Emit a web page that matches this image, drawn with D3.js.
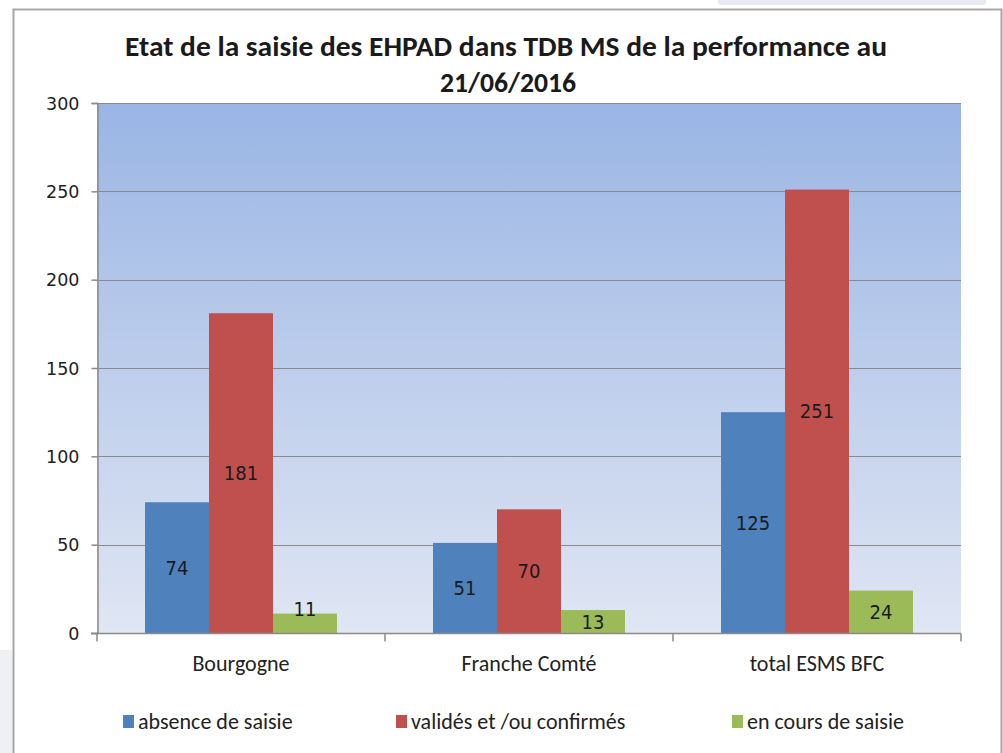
<!DOCTYPE html>
<html>
<head>
<meta charset="utf-8">
<script src="https://cdn.jsdelivr.net/npm/d3@7"></script>
<style>
  html, body { margin: 0; padding: 0; background: #fff; }
  svg { display: block; font-family: Carlito, Calibri, Lato, sans-serif; }
  .num { font-family: "DejaVu Sans Condensed", "DejaVu Sans", Verdana, sans-serif; }
  .tickfont { font-family: "DejaVu Sans", Verdana, sans-serif; }
</style>
</head>
<body>
<svg id="chart" width="1003" height="753"></svg>
<script>
// values
const categories = ["Bourgogne", "Franche Comté", "total ESMS BFC"];
const seriesNames = ["absence de saisie", "validés et /ou confirmés", "en cours de saisie"];
const absence = [74, 51, 125];
const valides = [181, 70, 251];
const enCours = [11, 13, 24];
const yTicks = [0, 50, 100, 150, 200, 250, 300];
const colors = ["#4f81bd", "#c0504d", "#9bbb59"];
const titleLines = ["Etat de la saisie des EHPAD dans TDB MS de la performance au", "21/06/2016"];

const series = [absence, valides, enCours];
const W = 1003, H = 753;
const plot = { left: 97, right: 961, top: 103, bottom: 633 };

const svg = d3.select("#chart");

// ----- page backdrop / frame -----
svg.append("rect").attr("x", 0).attr("y", 650).attr("width", 12).attr("height", H - 650).attr("fill", "#eef0f4");
svg.append("rect").attr("x", 718).attr("y", -4).attr("width", 268).attr("height", 9).attr("rx", 3).attr("fill", "#e7eaf0");
svg.append("path").attr("d", `M13.5,${H} V9.5 H1001.5 V${H}`)
  .attr("fill", "none").attr("stroke", "#a6a6a6").attr("stroke-width", 2);

// ----- title -----
const title = svg.append("text").attr("text-anchor", "middle").attr("font-weight", "bold")
  .attr("font-size", 28).attr("fill", "#1a1a1a");
title.append("tspan").attr("x", 506).attr("y", 56).text(titleLines[0])
  .attr("textLength", 762).attr("lengthAdjust", "spacingAndGlyphs");
title.append("tspan").attr("x", 508).attr("y", 92).text(titleLines[1])
  .attr("textLength", 136).attr("lengthAdjust", "spacingAndGlyphs");

// ----- scales -----
const x0 = d3.scaleBand().domain(categories).range([plot.left, plot.right]).paddingInner(0).paddingOuter(0);
const x1 = d3.scaleBand().domain(d3.range(series.length)).range([0, x0.bandwidth()]).paddingOuter(0.75).paddingInner(0);
const y = d3.scaleLinear().domain([0, 300]).range([plot.bottom, plot.top]);

// ----- plot background gradient -----
const grad = svg.append("defs").append("linearGradient").attr("id", "bg")
  .attr("x1", 0).attr("y1", 0).attr("x2", 0).attr("y2", 1);
grad.append("stop").attr("offset", "0%").attr("stop-color", "#9ab5e4");
grad.append("stop").attr("offset", "100%").attr("stop-color", "#e0e6f3");
svg.append("rect").attr("x", plot.left).attr("y", plot.top)
  .attr("width", plot.right - plot.left).attr("height", plot.bottom - plot.top).attr("fill", "url(#bg)");

// gridlines
svg.append("g").selectAll("line").data(yTicks.filter((t) => t > 0)).join("line")
  .attr("x1", plot.left).attr("x2", plot.right)
  .attr("y1", (d) => Math.round(y(d)) + 0.5).attr("y2", (d) => Math.round(y(d)) + 0.5)
  .attr("stroke", "#8a8a8a").attr("stroke-width", 1.2);

// ----- bars -----
const groups = svg.append("g").selectAll("g").data(categories).join("g")
  .attr("transform", (d) => `translate(${x0(d)},0)`);
groups.selectAll("rect").data((c, i) => series.map((s, k) => ({ k, v: s[i] }))).join("rect")
  .attr("x", (d) => x1(d.k)).attr("width", x1.bandwidth())
  .attr("y", (d) => y(d.v)).attr("height", (d) => y(0) - y(d.v))
  .attr("fill", (d) => colors[d.k]);

// data labels (centered; pushed up when the bar is too short)
groups.selectAll("text").data((c, i) => series.map((s, k) => ({ k, v: s[i] }))).join("text")
  .attr("class", "num")
  .attr("x", (d) => x1(d.k) + x1.bandwidth() / 2)
  .attr("y", (d) => {
    const h = y(0) - y(d.v);
    return h < 21 ? y(d.v) - 5 : (y(d.v) + y(0)) / 2;
  })
  .attr("dy", "0.36em").attr("text-anchor", "middle").attr("font-size", 20).attr("fill", "#1a1a1a")
  .text((d) => d.v);

// ----- axes -----
const yAxis = svg.append("g").attr("transform", `translate(${plot.left + 0.5},0)`)
  .call(d3.axisLeft(y).tickValues(yTicks).tickSize(6).tickPadding(12));
yAxis.select(".domain").attr("stroke", "#8a8a8a").attr("stroke-width", 1.5);
yAxis.selectAll(".tick line").attr("stroke", "#8a8a8a").attr("stroke-width", 1.5);
yAxis.selectAll(".tick text").attr("class", "tickfont").attr("font-size", 17.5)
  .attr("fill", "#222").attr("font-family", null).attr("dy", "0.36em");

const xAxis = svg.append("g").attr("transform", `translate(0,${plot.bottom + 0.5})`);
xAxis.append("line").attr("x1", plot.left - 6).attr("x2", plot.right)
  .attr("stroke", "#8a8a8a").attr("stroke-width", 1.5);
xAxis.selectAll("line.tk").data(d3.range(categories.length + 1)).join("line").attr("class", "tk")
  .attr("x1", (i) => plot.left + i * x0.bandwidth()).attr("x2", (i) => plot.left + i * x0.bandwidth())
  .attr("y1", 0).attr("y2", 8).attr("stroke", "#8a8a8a").attr("stroke-width", 1.5);
xAxis.selectAll("text").data(categories).join("text")
  .attr("x", (d) => x0(d) + x0.bandwidth() / 2).attr("y", 30).attr("dy", "0.36em")
  .attr("text-anchor", "middle").attr("font-size", 22).attr("fill", "#222").text((d) => d);

// ----- legend -----
const legendX = [123, 396, 732];
const legend = svg.append("g").selectAll("g").data(seriesNames).join("g")
  .attr("transform", (d, i) => `translate(${legendX[i]},715)`);
legend.append("rect").attr("width", 11).attr("height", 13).attr("fill", (d, i) => colors[i]);
legend.append("text").attr("x", 15).attr("y", 6.5).attr("dy", "0.36em")
  .attr("font-size", 22).attr("fill", "#222").text((d) => d);
</script>
</body>
</html>
